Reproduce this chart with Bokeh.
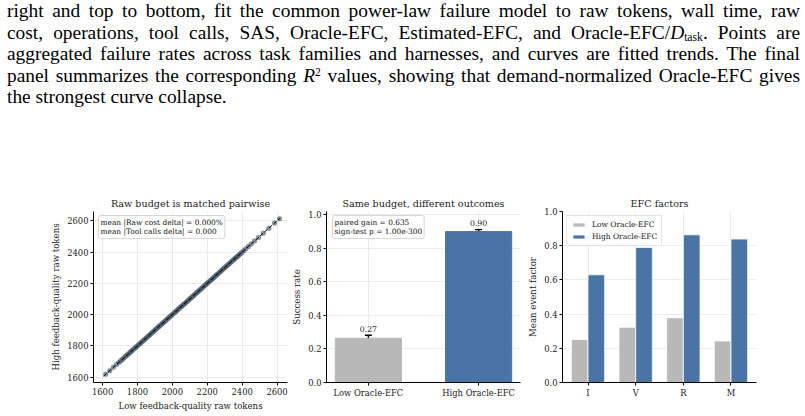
from bokeh.plotting import figure
from bokeh.layouts import column, row
from bokeh.models import (Div, ColumnDataSource, FixedTicker, Label, Legend, LegendItem,
                          Whisker, TeeHead, Range1d)
from bokeh.core.properties import value
from bokeh.embed import file_html
from bokeh.resources import INLINE

# ---------------- data ----------------
caption_lines = [
    "right and top to bottom, fit the common power-law failure model to raw tokens, wall time, raw",
    "cost, operations, tool calls, SAS, Oracle-EFC, Estimated-EFC, and Oracle-EFC/<i>D</i><sub>task</sub>. Points are",
    "aggregated failure rates across task families and harnesses, and curves are fitted trends. The final",
    "panel summarizes the corresponding <i>R</i><sup>2</sup> values, showing that demand-normalized Oracle-EFC gives",
    "the strongest curve collapse.",
]

low_raw_tokens = [1618, 1641, 1662, 1680, 1693, 1704, 1713, 1722, 1731, 1739, 1748, 1757, 1763,
                  1771, 1779, 1788, 1794, 1802, 1811, 1817, 1826, 1833, 1841, 1849, 1856, 1864,
                  1871, 1880, 1887, 1895, 1902, 1910, 1918, 1925, 1933, 1941, 1948, 1956, 1963,
                  1971, 1979, 1986, 1994, 2001, 2010, 2017, 2025, 2032, 2040, 2048, 2055, 2063,
                  2070, 2078, 2086, 2093, 2101, 2108, 2116, 2124, 2131, 2139, 2146, 2154, 2162,
                  2169, 2177, 2184, 2192, 2200, 2207, 2215, 2222, 2230, 2238, 2245, 2253, 2260,
                  2268, 2276, 2283, 2291, 2298, 2306, 2314, 2321, 2329, 2336, 2344, 2352, 2359,
                  2367, 2374, 2382, 2390, 2398, 2409, 2421, 2436, 2452, 2471, 2494, 2521, 2553,
                  2586, 2614]
high_raw_tokens = [1618, 1641, 1662, 1680, 1693, 1704, 1713, 1722, 1731, 1739, 1748, 1757, 1763,
                   1771, 1779, 1788, 1794, 1802, 1811, 1817, 1826, 1833, 1841, 1849, 1856, 1864,
                   1871, 1880, 1887, 1895, 1902, 1910, 1918, 1925, 1933, 1941, 1948, 1956, 1963,
                   1971, 1979, 1986, 1994, 2001, 2010, 2017, 2025, 2032, 2040, 2048, 2055, 2063,
                   2070, 2078, 2086, 2093, 2101, 2108, 2116, 2124, 2131, 2139, 2146, 2154, 2162,
                   2169, 2177, 2184, 2192, 2200, 2207, 2215, 2222, 2230, 2238, 2245, 2253, 2260,
                   2268, 2276, 2283, 2291, 2298, 2306, 2314, 2321, 2329, 2336, 2344, 2352, 2359,
                   2367, 2374, 2382, 2390, 2398, 2409, 2421, 2436, 2452, 2471, 2494, 2521, 2553,
                   2586, 2614]
token_ticks = [1600, 1800, 2000, 2200, 2400, 2600]

groups = ["Low Oracle-EFC", "High Oracle-EFC"]
success_rate = [0.264, 0.90]
success_err = [0.018, 0.012]
success_labels = ["0.27", "0.90"]
paired_text = "paired gain = 0.635\nsign-test p = 1.00e-300"
delta_text = "mean |Raw cost delta| = 0.000%\nmean |Tool calls delta| = 0.000"

factors = ["I", "V", "R", "M"]
low_factor = [0.252, 0.323, 0.378, 0.243]
high_factor = [0.630, 0.790, 0.864, 0.839]
unit_ticks = [0.0, 0.2, 0.4, 0.6, 0.8, 1.0]

GRAY = "#b8b8b8"
BLUE = "#4a74a6"
FONT = "DejaVu Serif"


def style(p, xlabel, ylabel):
    p.outline_line_color = None
    p.title.text_font = FONT
    p.title.text_font_style = "normal"
    p.title.text_font_size = "9.6px"
    p.title.text_color = "#222222"
    p.title.align = "center"
    p.title.vertical_align = "middle"
    p.title.standoff = 4
    for ax in (p.xaxis[0], p.yaxis[0]):
        ax.axis_line_color = "black"
        ax.axis_line_width = 1
        ax.major_tick_line_color = "black"
        ax.major_tick_out = 3
        ax.major_tick_in = 0
        ax.minor_tick_line_color = None
        ax.major_label_text_font = FONT
        ax.major_label_text_font_size = "8.4px"
        ax.major_label_text_color = "#222222"
        ax.major_label_standoff = 2
        ax.axis_label_text_font = FONT
        ax.axis_label_text_font_size = "8.6px"
        ax.axis_label_text_font_style = "normal"
        ax.axis_label_text_color = "#222222"
        ax.axis_label_standoff = 3
    p.xaxis.axis_label = xlabel
    p.yaxis.axis_label = ylabel
    p.grid.grid_line_color = "#e6e6e6"
    p.grid.grid_line_width = 0.8


# ---------------- caption ----------------
parts = []
for i, ln in enumerate(caption_lines):
    just = "text-align:justify;text-align-last:justify;" if i < len(caption_lines) - 1 else ""
    parts.append(f'<div style="{just}white-space:nowrap;">{ln}</div>')
caption_html = (
    '<div style="font-family:Liberation Serif,Times New Roman,Times,serif;font-size:19.4px;'
    'line-height:21.5px;color:#000;width:793px;margin-left:7px;margin-top:0px;">'
    + "".join(parts).replace("<sub>", '<sub style="font-size:60%;line-height:0;vertical-align:-0.2em;">')
                    .replace("<sup>", '<sup style="font-size:60%;line-height:0;vertical-align:0.5em;">')
    + "</div>"
)
div = Div(text=caption_html, width=805, height=187, styles={"margin": "0", "padding": "0"})

TOP, BOTTOM = 24, 34

# ---------------- panel 1 ----------------
p1 = figure(frame_width=194, frame_height=171, min_border_left=93, min_border_right=2,
            min_border_top=TOP, min_border_bottom=BOTTOM, output_backend="svg", toolbar_location=None,
            x_range=Range1d(1548, 2660), y_range=Range1d(1565, 2660),
            title="Raw budget is matched pairwise")
style(p1, "Low feedback-quality raw tokens", "High feedback-quality raw tokens")
p1.xaxis.ticker = FixedTicker(ticks=token_ticks)
p1.yaxis.ticker = FixedTicker(ticks=token_ticks)
p1.scatter(low_raw_tokens, high_raw_tokens, size=5, fill_color="#3d4f61", fill_alpha=0.6,
           line_color="#2c3e50", line_alpha=0.25, line_width=0.5)
lo = min(low_raw_tokens + high_raw_tokens)
hi = max(low_raw_tokens + high_raw_tokens)
p1.line([lo - 12, hi + 4], [lo - 12, hi + 4], line_color="black", line_dash="4 2", line_width=1)
p1.add_layout(Label(x=5, y=167, x_units="screen", y_units="screen", text=delta_text,
                    text_font=FONT, text_font_size="7.4px", text_color="#111111",
                    text_baseline="top", text_align="left", text_line_height=1.1,
                    background_fill_color="white", background_fill_alpha=0.9,
                    border_line_color="#cccccc", border_line_width=0.8,
                    padding=2, border_radius=2))

# ---------------- panel 2 ----------------
p2 = figure(frame_width=194, frame_height=171, min_border_left=37, min_border_right=5,
            min_border_top=TOP, min_border_bottom=BOTTOM, output_backend="svg", toolbar_location=None,
            x_range=Range1d(-0.38, 1.38), y_range=Range1d(0, 1.02),
            title="Same budget, different outcomes")
style(p2, "", "Success rate")
p2.xaxis.ticker = FixedTicker(ticks=[0, 1])
p2.xaxis.major_label_overrides = {0: groups[0], 1: groups[1]}
p2.yaxis.ticker = FixedTicker(ticks=unit_ticks)
p2.yaxis.major_label_overrides = {v: f"{v:.1f}" for v in unit_ticks}
xs2 = list(range(len(groups)))
src2 = ColumnDataSource(dict(
    x=xs2, top=success_rate, color=[GRAY, BLUE],
    upper=[v + e for v, e in zip(success_rate, success_err)],
    lower=[v - e for v, e in zip(success_rate, success_err)],
    ty=[v + e + 0.022 for v, e in zip(success_rate, success_err)],
    label=success_labels))
p2.vbar(x="x", top="top", width=0.6, fill_color="color", line_color="color", source=src2)
p2.add_layout(Whisker(base="x", upper="upper", lower="lower", source=src2,
                      line_color="black", line_width=1.4,
                      upper_head=TeeHead(size=7, line_width=1.4, line_color="black"),
                      lower_head=TeeHead(size=7, line_width=1.4, line_color="black")))
p2.text(x="x", y="ty", text="label", source=src2, text_font=value(FONT), text_font_size="7.8px",
        text_align="center", text_baseline="bottom", text_color="#222222")
p2.add_layout(Label(x=6, y=167, x_units="screen", y_units="screen", text=paired_text,
                    text_font=FONT, text_font_size="7.4px", text_color="#111111",
                    text_baseline="top", text_align="left", text_line_height=1.1,
                    background_fill_color="white", background_fill_alpha=0.9,
                    border_line_color="#cccccc", border_line_width=0.8,
                    padding=2, border_radius=2))

# ---------------- panel 3 ----------------
p3 = figure(frame_width=194, frame_height=171, min_border_left=33, min_border_right=10,
            min_border_top=TOP, min_border_bottom=BOTTOM, output_backend="svg", toolbar_location=None,
            x_range=Range1d(-0.535, 3.535), y_range=Range1d(0, 1.0),
            title="EFC factors")
style(p3, "", "Mean event factor")
p3.xaxis.ticker = FixedTicker(ticks=list(range(len(factors))))
p3.xaxis.major_label_overrides = {i: f for i, f in enumerate(factors)}
p3.yaxis.ticker = FixedTicker(ticks=unit_ticks)
p3.yaxis.major_label_overrides = {v: f"{v:.1f}" for v in unit_ticks}
xs3 = list(range(len(factors)))
r_low = p3.vbar(x=[x - 0.175 for x in xs3], top=low_factor, width=0.35,
                fill_color=GRAY, line_color="white", line_width=0.8)
r_high = p3.vbar(x=[x + 0.175 for x in xs3], top=high_factor, width=0.35,
                 fill_color=BLUE, line_color="white", line_width=0.8)
leg = Legend(items=[LegendItem(label=groups[0], renderers=[r_low]),
                    LegendItem(label=groups[1], renderers=[r_high])],
             location="top_left", label_text_font=FONT, label_text_font_size="7.5px",
             label_text_color="#222222", glyph_width=15, glyph_height=5, label_height=8,
             label_standoff=6, spacing=3, padding=4, margin=4,
             border_line_color="#cccccc", border_line_width=0.8, background_fill_alpha=0.9)
p3.add_layout(leg)

layout = column(div, row(p1, p2, p3, spacing=0), spacing=0)
open("out.html", "w").write(file_html(layout, INLINE))
